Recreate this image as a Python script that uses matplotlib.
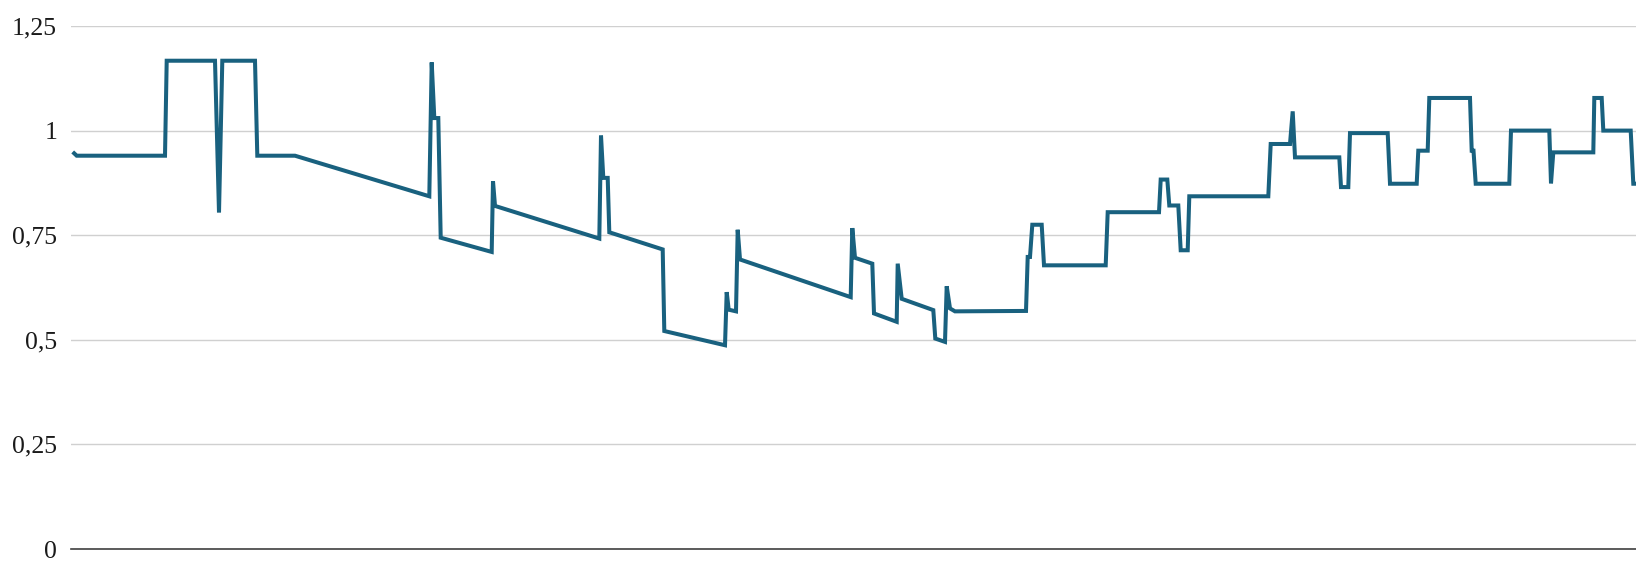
import matplotlib
matplotlib.use("Agg")
import matplotlib.pyplot as plt
from matplotlib.ticker import FuncFormatter

# x positions (time units along the axis) and values
x_pos = [1.7, 5.7, 94, 95.7, 144, 148, 151.3, 184, 186.3, 224, 358.3, 360.7, 363.3, 367.3,
         369.7, 420.7, 422, 424, 528.3, 530, 532.3, 536.7, 538.3, 591.7, 593.3, 654,
         655.7, 657.7, 665, 666.7, 669, 779.7, 781.3, 784, 801.3, 803, 825.7, 826.7,
         830.7, 862.3, 864.3, 874, 875.7, 879, 884, 955, 956.7, 959, 961.3, 970.7, 973,
         1034.7, 1036.7, 1088, 1089.7, 1096.3, 1098.3, 1107.3, 1109.7, 1116.7, 1118.3,
         1197.3, 1199.7, 1219, 1221.7, 1224, 1268.3, 1270, 1277.3, 1279, 1316.7, 1319,
         1345.7, 1347.3, 1356.7, 1358.3, 1399, 1400.7, 1402.5, 1404.7, 1438.3, 1440,
         1478.3, 1480, 1482.3, 1522.3, 1523.3, 1530.7, 1532.3, 1559.7, 1562.3, 1565]
values = [0.949, 0.940, 0.940, 1.167, 1.167, 0.804, 1.167, 1.167, 0.940, 0.940, 0.843,
          1.163, 1.030, 1.030, 0.744, 0.710, 0.879, 0.820, 0.742, 0.988, 0.887, 0.887,
          0.757, 0.716, 0.521, 0.487, 0.614, 0.572, 0.568, 0.763, 0.692, 0.602, 0.767,
          0.696, 0.682, 0.563, 0.543, 0.682, 0.598, 0.571, 0.503, 0.495, 0.628, 0.575,
          0.568, 0.569, 0.698, 0.698, 0.775, 0.775, 0.678, 0.678, 0.805, 0.805, 0.883,
          0.883, 0.821, 0.821, 0.714, 0.714, 0.843, 0.843, 0.968, 0.968, 1.046, 0.936,
          0.936, 0.865, 0.865, 0.994, 0.994, 0.873, 0.873, 0.952, 0.952, 1.078, 1.078,
          0.952, 0.952, 0.873, 0.873, 1.0, 1.0, 0.874, 0.948, 0.948, 1.078, 1.078, 1.0,
          1.0, 0.873, 0.873]
y_ticks = [0, 0.25, 0.5, 0.75, 1, 1.25]

plt.rcParams['font.family'] = ['Liberation Serif', 'DejaVu Serif']

fig = plt.figure(figsize=(16.36, 5.65), dpi=100)
ax = fig.add_axes([71 / 1636, 1 - 549 / 565, 1 - 71 / 1636, (549 - 26) / 565])

ax.plot(x_pos, values, color='#19617f', linewidth=2.9, solid_joinstyle='miter',
        solid_capstyle='butt', zorder=3)

ax.set_xlim(0, 1565)
ax.set_ylim(0, 1.25)
ax.set_yticks(y_ticks)
ax.yaxis.set_major_formatter(FuncFormatter(
    lambda v, p: ('%g' % v).replace('.', ',')))
ax.tick_params(axis='y', length=0, pad=10, labelsize=18.5, labelcolor='#1a1a1a')
ax.set_xticks([])
ax.grid(axis='y', color='#d0d0d0', linewidth=1.0, zorder=0)
for s in ['top', 'right', 'left']:
    ax.spines[s].set_visible(False)
ax.spines['bottom'].set_color('#404040')
ax.spines['bottom'].set_linewidth(1.2)
ax.spines['bottom'].set_zorder(4)

fig.savefig('out.png', dpi=100)
